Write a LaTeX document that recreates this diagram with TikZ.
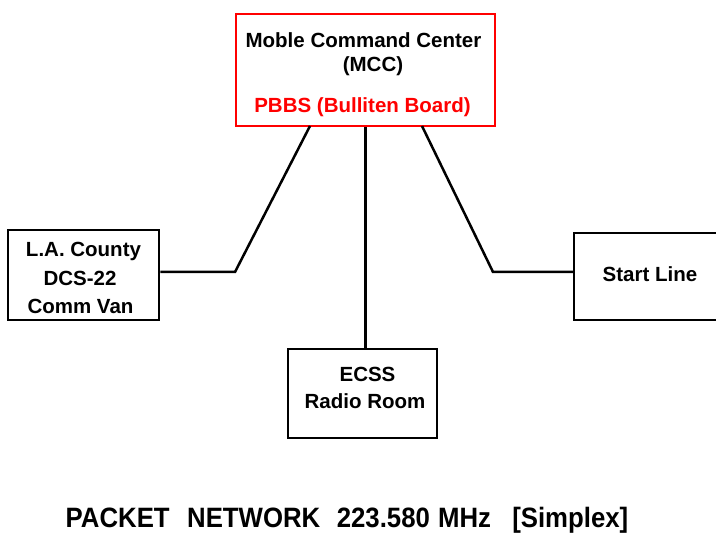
\documentclass[tikz,border=0pt]{standalone}
\usepackage{fontspec}
\setmainfont{Liberation Sans}
\begin{document}
\begin{tikzpicture}[x=1pt,y=-1pt,
  box/.style={draw=black,line width=2.5pt,minimum width=#1,inner sep=0pt},
  lbl/.style={anchor=base,inner sep=0pt,font=\fontsize{20.5}{26}\selectfont\bfseries},
  conn/.style={draw=black,line width=2.5pt}]
\useasboundingbox (0,0) rectangle (716,534);
\clip (0,0) rectangle (716,534);
% boxes
\node[box=259pt,draw=red,line width=2.6pt,minimum height=112pt] (mcc) at (365.5,70) {};
\node[box=151pt,minimum height=90pt] (la) at (83.5,275) {};
\node[box=150pt,minimum height=87pt] (start) at (649,276.5) {};
\node[box=149pt,minimum height=89pt] (ecss) at (362.5,393.5) {};
% texts
\node[lbl] (t1) at (363.5,48) {Moble Command Center};
\node[lbl] (t2) at (373,72) {(MCC)};
\node[lbl,text=red] (t3) at (362.5,113) {PBBS (Bulliten Board)};
\node[lbl] (t4) at (83.5,257) {L.A. County};
\node[lbl] (t5) at (80,286) {DCS-22};
\node[lbl] (t6) at (80.5,314) {Comm Van};
\node[lbl] (t7) at (650,282) {Start Line};
\node[lbl] (t8) at (367.5,382) {ECSS};
\node[lbl] (t9) at (365,409) {Radio Room};
\node[anchor=base,inner sep=0pt,font=\fontsize{28}{32}\selectfont\bfseries] (title) at (347,528)
  {\scalebox{0.92}[1]{PACKET\hspace{19pt}NETWORK\hspace{18pt}223.580\hspace{9pt}MHz\hspace{23pt}[Simplex]}};
% connectors
\coordinate (ml) at (310,126);
\coordinate (kl) at (235,272);
\coordinate (mr) at (422,126);
\coordinate (kr) at (493,272);
\draw[conn] (ml) -- (kl) -- (kl -| la.east);
\draw[conn] (mr) -- (kr) -- (kr -| start.west);
\draw[conn] (mcc.south) -- (mcc.south |- ecss.north);
\end{tikzpicture}
\end{document}
